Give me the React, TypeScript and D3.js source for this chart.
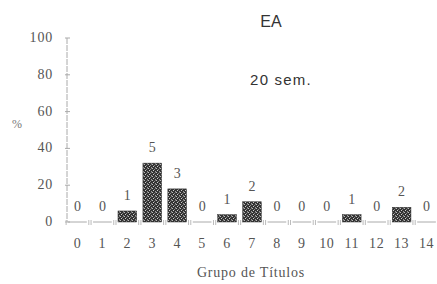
import React from "react";
import * as d3 from "d3";

const grupos = ["0", "1", "2", "3", "4", "5", "6", "7", "8", "9", "10", "11", "12", "13", "14"];
const porcentaje = [0, 0, 6, 32, 18, 0, 4, 11, 0, 0, 0, 4, 0, 8, 0];
const conteo = [0, 0, 1, 5, 3, 0, 1, 2, 0, 0, 0, 1, 0, 2, 0];
const yTicks = [0, 20, 40, 60, 80, 100];

const W = 437;
const H = 284;
const serif = "'Liberation Serif', 'DejaVu Serif', serif";
const sans = "'Liberation Sans', Arial, sans-serif";

const App = () => {
    const x = d3
        .scaleBand<string>()
        .domain(grupos)
        .range([65, 439])
        .paddingInner(0.25)
        .paddingOuter(0.125);

    const y = d3.scaleLinear().domain([0, 100]).range([222, 38]);
    const axisX = 67;

    return (
        <svg
            width={W}
            height={H}
            style={{ position: "absolute", left: 0, top: 0, background: "#fff" }}
        >
            <defs>
                <pattern id="grano" width="4" height="4" patternUnits="userSpaceOnUse">
                    <rect width="4" height="4" fill="#333" />
                    <rect x="0" y="0" width="1" height="1" fill="#bbb" />
                    <rect x="2" y="1" width="1" height="1" fill="#888" />
                    <rect x="1" y="2" width="1" height="1" fill="#ccc" />
                    <rect x="3" y="3" width="1" height="1" fill="#999" />
                    <rect x="3" y="0" width="1" height="1" fill="#666" />
                </pattern>
            </defs>

            <text x={271} y={27} textAnchor="middle" fontFamily={sans} fontSize="16" fill="#333">
                EA
            </text>
            <text
                x={281}
                y={85}
                textAnchor="middle"
                fontFamily={sans}
                fontSize="15"
                letterSpacing="1.2"
                fill="#333"
            >
                20 sem.
            </text>

            {/* eje y */}
            <line
                x1={axisX}
                x2={axisX}
                y1={y(100)}
                y2={y(0)}
                stroke="#aaa"
                strokeWidth={1}
                strokeDasharray="6 1"
            />
            {yTicks.map(t => (
                <g key={t}>
                    <line x1={axisX - 2} x2={axisX + 3} y1={y(t)} y2={y(t)} stroke="#aaa" />
                    <text
                        x={53}
                        y={y(t) + 4}
                        textAnchor="end"
                        fontFamily={serif}
                        fontSize="14"
                        letterSpacing="0.8"
                        fill="#555"
                    >
                        {t}
                    </text>
                </g>
            ))}
            <text x={17} y={128} textAnchor="middle" fontFamily={serif} fontSize="12" fill="#777">
                %
            </text>

            {/* barras */}
            {grupos.map((g, i) => {
                const x0 = x(g) as number;
                const bw = x.bandwidth();
                const v = porcentaje[i];
                return (
                    <g key={g}>
                        <line x1={x0 - 2} x2={x0 - 2} y1={y(0) - 2} y2={y(0) + 3} stroke="#bbb" />
                        <line x1={x0 + bw + 2} x2={x0 + bw + 2} y1={y(0) - 2} y2={y(0) + 3} stroke="#bbb" />
                        {v === 0 ? (
                            <line x1={x0} x2={x0 + bw} y1={y(0)} y2={y(0)} stroke="#aaa" />
                        ) : (
                            <rect
                                x={x0}
                                y={y(v)}
                                width={bw}
                                height={y(0) - y(v)}
                                fill="url(#grano)"
                                stroke="#333"
                                strokeWidth={0.5}
                            />
                        )}
                        <text
                            x={x0 + bw / 2}
                            y={y(v) - 11}
                            textAnchor="middle"
                            fontFamily={serif}
                            fontSize="14"
                            fill="#555"
                        >
                            {conteo[i]}
                        </text>
                        <text
                            x={x0 + bw / 2}
                            y={248}
                            textAnchor="middle"
                            fontFamily={serif}
                            fontSize="14"
                            letterSpacing="0.6"
                            fill="#555"
                        >
                            {g}
                        </text>
                    </g>
                );
            })}

            <text
                x={251}
                y={277}
                textAnchor="middle"
                fontFamily={serif}
                fontSize="14"
                letterSpacing="0.8"
                fill="#555"
            >
                Grupo de Títulos
            </text>
        </svg>
    );
};

export default App;
